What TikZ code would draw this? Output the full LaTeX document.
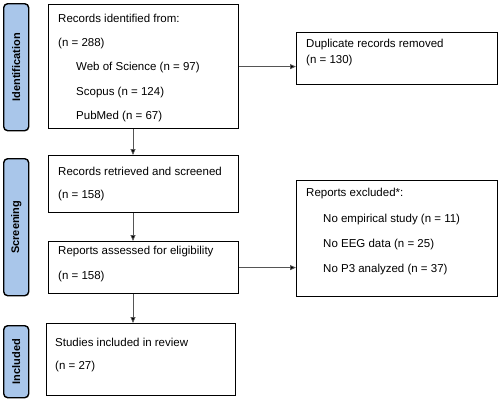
\documentclass[tikz,border=0pt]{standalone}
\usepackage{fontspec}
\setmainfont{Liberation Sans}
\usetikzlibrary{arrows.meta}
\definecolor{bandblue}{HTML}{A9C6EA}
\definecolor{arrowgray}{HTML}{555555}
\tikzset{
  box/.style={draw, line width=1.2pt, anchor=north west, inner sep=0pt},
  band/.style={draw, line width=1.4pt, fill=bandblue, rounded corners=4pt, anchor=north west, inner sep=0pt},
  txt/.style={anchor=west, inner sep=0pt, font=\fontsize{11.5}{13}\selectfont},
  lbl/.style={rotate=90, inner sep=0pt, font=\bfseries\fontsize{11}{13}\selectfont},
  arr/.style={draw=arrowgray, line width=0.8pt, -{Triangle[length=6pt,width=5pt,fill=black]}}
}
\begin{document}
\begin{tikzpicture}[x=1pt,y=-1pt]
  \useasboundingbox (0,0) rectangle (500,400);
  % side bands
  \node[band, minimum width=25pt, minimum height=127pt] (idband) at (3,3) {};
  \node[band, minimum width=25pt, minimum height=137pt] (scband) at (3,158) {};
  \node[band, minimum width=25pt, minimum height=72pt] (inband) at (3,325) {};
  \node[lbl] at (idband.center) {Identification};
  \node[lbl] at (scband.center) {Screening};
  \node[lbl] at (inband.center) {Included};
  % boxes
  \node[box, minimum width=190pt, minimum height=124pt] (ident) at (48,4) {};
  \node[box, minimum width=190pt, minimum height=57pt] (screen) at (48,155) {};
  \node[box, minimum width=190pt, minimum height=52pt] (assess) at (48,241) {};
  \node[box, minimum width=189pt, minimum height=72pt] (incl) at (46,323) {};
  \node[box, minimum width=201pt, minimum height=52pt] (dupl) at (296,32) {};
  \node[box, minimum width=201pt, minimum height=116pt] (excl) at (296,180) {};
  % texts
  \node[txt] (t1) at (58,18) {Records identified from:};
  \node[txt] (t2) at (58,44) {(n = 288)};
  \node[txt] (t3) at (76,68) {Web of Science (n = 97)};
  \node[txt] (t4) at (76,93) {Scopus (n = 124)};
  \node[txt] (t5) at (76,117) {PubMed (n = 67)};
  \node[txt] (t6) at (306,45) {Duplicate records removed};
  \node[txt] (t7) at (306,61) {(n = 130)};
  \node[txt] (t8) at (58,171) {Records retrieved and screened};
  \node[txt] (t9) at (58,196) {(n = 158)};
  \node[txt] (t10) at (58,252) {Reports assessed for eligibility};
  \node[txt] (t11) at (58,277) {(n = 158)};
  \node[txt] (t12) at (306,194) {Reports excluded*:};
  \node[txt] (t13) at (323,220) {No empirical study (n = 11)};
  \node[txt] (t14) at (323,245) {No EEG data (n = 25)};
  \node[txt] (t15) at (323,270) {No P3 analyzed (n = 37)};
  \node[txt] (t16) at (55,342) {Studies included in review};
  \node[txt] (t17) at (55,367) {(n = 27)};
  % arrows
  \coordinate (mid) at (133,0);
  \draw[arr] (ident.south -| mid) -- (screen.north -| mid);
  \draw[arr] (screen.south -| mid) -- (assess.north -| mid);
  \draw[arr] (assess.south -| mid) -- (incl.north -| mid);
  \draw[arr] (ident.east) -- (ident.east -| dupl.west);
  \draw[arr] (assess.east) -- (assess.east -| excl.west);
\end{tikzpicture}
\end{document}
